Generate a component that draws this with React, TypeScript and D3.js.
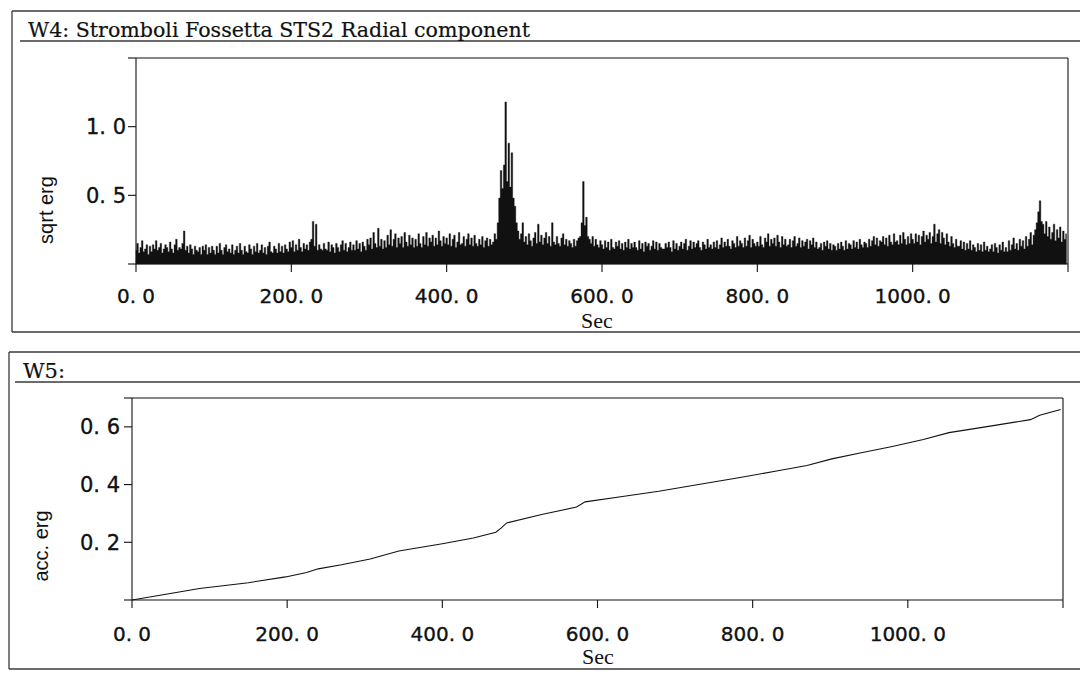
import React from 'react';
import * as d3 from 'd3';

const W = 1080;
const H = 674;

// Seismic envelope (sqrt erg, in hundredths), one value every 2 s
const sampleStep = 2;
const valueUnit = 0.01;
const sqrtErg = [
  10,15,8,12,17,9,11,14,7,13,
  9,14,11,17,10,12,15,8,11,14,
  12,9,16,11,8,14,18,10,12,11,
  15,24,10,13,8,14,11,7,13,10,
  9,12,7,13,10,14,7,12,8,13,
  10,7,13,8,15,10,7,12,14,9,
  11,8,14,7,10,13,8,15,10,7,
  13,9,8,14,11,7,13,9,15,8,
  10,14,8,12,7,13,16,9,8,13,
  11,8,15,9,13,8,14,11,9,16,
  12,17,9,14,10,18,12,9,15,11,
  14,10,16,18,31,13,29,10,14,11,
  10,15,11,10,16,9,14,12,8,15,
  12,9,14,17,10,15,9,12,16,10,
  14,10,17,11,15,9,16,13,10,18,
  14,19,11,23,15,12,26,13,18,11,
  17,12,21,14,25,13,18,22,12,19,
  15,20,12,23,16,13,21,14,19,12,
  18,13,22,15,12,20,14,23,13,19,
  16,21,13,19,14,24,17,13,20,15,
  19,14,22,13,18,21,12,16,23,14,
  15,20,13,18,22,14,19,13,21,15,
  13,18,14,20,12,17,19,13,18,14,
  16,22,18,30,48,68,55,72,118,60,
  88,56,81,48,42,30,24,18,22,30,
  16,20,14,22,17,13,19,23,15,29,
  16,21,14,19,23,15,20,13,30,16,
  14,20,15,13,19,22,14,18,13,17,
  15,12,18,13,17,19,20,30,60,28,
  34,20,18,15,20,13,18,14,12,17,
  14,11,17,12,16,10,18,12,11,16,
  13,17,11,15,10,16,12,18,11,15,
  12,16,12,10,17,11,15,9,16,13,
  15,10,13,17,11,16,10,15,12,11,
  11,15,12,16,12,9,17,11,15,10,
  13,16,11,15,18,10,13,17,11,16,
  12,15,17,12,10,16,14,11,18,12,
  14,11,16,12,17,11,14,19,12,16,
  13,18,13,11,17,15,12,20,13,17,
  15,12,19,13,17,21,12,18,15,13,
  16,13,20,14,12,19,16,22,13,18,
  15,19,13,21,16,12,20,14,18,13,
  14,18,12,17,20,13,15,19,12,17,
  13,16,18,11,17,14,19,12,16,11,
  12,15,10,16,13,17,11,15,10,14,
  13,10,15,11,16,13,10,17,11,15,
  14,11,17,12,16,11,18,14,12,16,
  15,12,18,13,17,20,14,19,13,17,
  16,20,14,19,13,21,16,14,22,16,
  17,14,21,15,23,18,14,20,15,22,
  18,15,22,16,21,14,20,24,16,21,
  18,23,15,20,29,16,22,25,15,23,
  19,14,22,16,13,20,15,12,18,13,
  13,17,11,16,10,15,11,17,10,14,
  12,9,15,10,14,9,16,10,13,9,
  11,14,9,15,12,8,14,10,16,9,
  12,9,17,10,14,19,11,15,10,18,
  13,17,11,20,13,18,23,14,21,25,
  30,38,46,31,29,22,31,20,27,18,
  23,29,17,25,19,27,16,24,18,22,
];

// Accumulated energy
const accTimes = [0, 40, 87, 150, 198, 225, 240, 270, 307, 344, 400, 440, 469, 476, 483, 528, 573, 584, 630, 679, 734, 780, 829, 870, 902, 940, 980, 1020, 1053, 1100, 1158, 1170, 1197];
const accErg = [0, 0.018, 0.04, 0.06, 0.08, 0.095, 0.108, 0.122, 0.142, 0.17, 0.195, 0.215, 0.235, 0.25, 0.267, 0.296, 0.322, 0.34, 0.358, 0.377, 0.402, 0.423, 0.446, 0.466, 0.489, 0.51, 0.532, 0.556, 0.58, 0.6, 0.625, 0.64, 0.66];

const xDomain = [0, 1200];
const xTicks = [0, 200, 400, 600, 800, 1000, 1200];
const xTickLabels = ['0. 0', '200. 0', '400. 0', '600. 0', '800. 0', '1000. 0', ''];
const topYTicks = [0, 0.5, 1.0, 1.5];
const topYLabels = ['', '0. 5', '1. 0', ''];
const botYTicks = [0, 0.2, 0.4, 0.6, 0.7];
const botYLabels = ['', '0. 2', '0. 4', '0. 6', ''];

const INK = '#111';
const FRAME = '#3a3a3a';
const tickFont = '"DejaVu Sans", sans-serif';

type PanelProps = {
  frameLeft: number; frameTop: number; underlineY: number; frameBottom: number; underlineX: number;
  title: string; titleX: number; titleY: number; titleLength?: number;
  x0: number; x1: number; yTop: number; yBase: number;
  yDomain: [number, number]; yTicks: number[]; yLabels: string[]; yLabelRight: number;
  yTitle: string; yTitleX: number; yTitleY: number;
  tickLabelY: number; secY: number; secX: number;
  children: (x: d3.ScaleLinear<number, number>, y: d3.ScaleLinear<number, number>) => React.ReactNode;
};

function Panel(p: PanelProps) {
  const x = d3.scaleLinear().domain(xDomain).range([p.x0, p.x1]);
  const y = d3.scaleLinear().domain(p.yDomain).range([p.yBase, p.yTop]);
  return (
    <g>
      <line x1={p.frameLeft} x2={W} y1={p.frameTop} y2={p.frameTop} stroke={FRAME} strokeWidth={1.5} />
      <line x1={p.frameLeft} x2={p.frameLeft} y1={p.frameTop} y2={p.frameBottom} stroke={FRAME} strokeWidth={1.3} />
      <line x1={p.underlineX} x2={W} y1={p.underlineY} y2={p.underlineY} stroke={FRAME} strokeWidth={1.5} />
      <line x1={p.frameLeft} x2={W} y1={p.frameBottom} y2={p.frameBottom} stroke={FRAME} strokeWidth={1.5} />
      <text x={p.titleX} y={p.titleY} fontFamily='"DejaVu Serif", serif' fontSize={21} fill={INK}
        stroke={INK} strokeWidth={0.2}
        textLength={p.titleLength} lengthAdjust={p.titleLength ? 'spacingAndGlyphs' : undefined}>{p.title}</text>

      {p.children(x, y)}

      <line x1={p.x0} x2={p.x1} y1={p.yTop} y2={p.yTop} stroke={INK} strokeWidth={1.1} />
      <line x1={p.x1} x2={p.x1} y1={p.yTop} y2={p.yBase} stroke={INK} strokeWidth={1.1} />
      <line x1={p.x0} x2={p.x0} y1={p.yTop} y2={p.yBase} stroke={INK} strokeWidth={1.1} />
      <line x1={p.x0} x2={p.x1} y1={p.yBase} y2={p.yBase} stroke={INK} strokeWidth={1.1} />

      {p.yTicks.map((t, i) => (
        <g key={'y' + i}>
          <line x1={p.x0 - 8} x2={p.x0} y1={y(t)} y2={y(t)} stroke={INK} strokeWidth={1.1} />
          {p.yLabels[i] && (
            <text x={p.yLabelRight} y={y(t)} dy="0.36em" textAnchor="end" fontFamily={tickFont} fontSize={21}
              fill={INK} stroke={INK} strokeWidth={0.35}>{p.yLabels[i]}</text>
          )}
        </g>
      ))}

      {xTicks.map((t, i) => (
        <g key={'x' + i}>
          <line x1={x(t)} x2={x(t)} y1={p.yBase} y2={p.yBase + 8} stroke={INK} strokeWidth={1.1} />
          {xTickLabels[i] && (
            <text x={x(t)} y={p.tickLabelY} textAnchor="middle" fontFamily={tickFont} fontSize={20}
              fill={INK} stroke={INK} strokeWidth={0.35}>{xTickLabels[i]}</text>
          )}
        </g>
      ))}

      <text x={p.secX} y={p.secY} textAnchor="middle" fontFamily='"Liberation Serif", serif' fontSize={22} fill={INK}>Sec</text>
      <text transform={`translate(${p.yTitleX},${p.yTitleY}) rotate(-90)`} textAnchor="middle" dy="0.35em"
        fontFamily='"Liberation Sans", sans-serif' fontSize={20} fill={INK}>{p.yTitle}</text>
    </g>
  );
}

export default function App() {
  const energyPts: [number, number][] = sqrtErg.map((v, i) => [i * sampleStep, v * valueUnit]);
  const accPts: [number, number][] = accTimes.map((t, i) => [t, accErg[i]]);
  return (
    <svg width={W} height={H} viewBox={`0 0 ${W} ${H}`} style={{ position: 'absolute', left: 0, top: 0, background: '#fff' }}>
      <rect x={0} y={0} width={W} height={H} fill="#fff" />
      <Panel
        frameLeft={12} frameTop={11} underlineY={41} underlineX={20} frameBottom={332}
        title="W4: Stromboli Fossetta STS2 Radial component" titleX={28} titleY={37} titleLength={502}
        x0={136} x1={1068} yTop={58} yBase={264}
        yDomain={[0, 1.5]} yTicks={topYTicks} yLabels={topYLabels} yLabelRight={126}
        yTitle="sqrt erg" yTitleX={46} yTitleY={210}
        tickLabelY={303} secY={328} secX={597}
      >
        {(x, y) => {
          const area = d3.area<[number, number]>().curve(d3.curveStep).x(d => x(d[0])).y0(y(0)).y1(d => y(d[1]));
          return <path d={area(energyPts) || ''} fill={INK} stroke={INK} strokeWidth={0.4} />;
        }}
      </Panel>
      <Panel
        frameLeft={9} frameTop={352} underlineY={382} underlineX={15} frameBottom={669}
        title="W5:" titleX={23} titleY={378}
        x0={132} x1={1063} yTop={398} yBase={600}
        yDomain={[0, 0.7]} yTicks={botYTicks} yLabels={botYLabels} yLabelRight={120}
        yTitle="acc. erg" yTitleX={41} yTitleY={546}
        tickLabelY={641} secY={664} secX={598}
      >
        {(x, y) => {
          const line = d3.line<[number, number]>().x(d => x(d[0])).y(d => y(d[1]));
          return <path d={line(accPts) || ''} fill="none" stroke={INK} strokeWidth={1.1} />;
        }}
      </Panel>
    </svg>
  );
}
